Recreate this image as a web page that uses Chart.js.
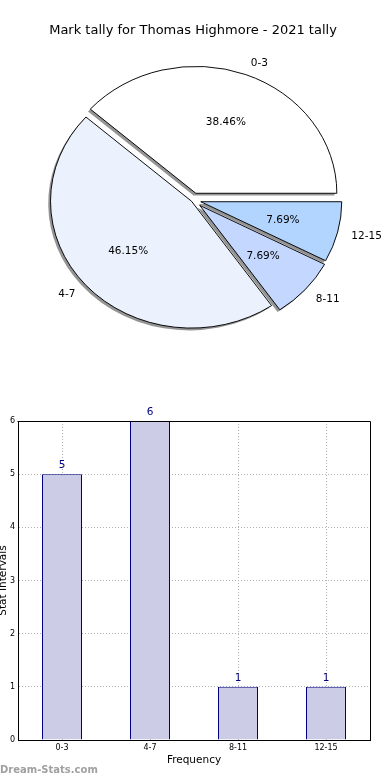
<!DOCTYPE html>
<html><head><meta charset="utf-8">
<script src="https://cdn.jsdelivr.net/npm/chart.js@4/dist/chart.umd.min.js"></script>
<style>
html,body{margin:0;padding:0;background:#fff;width:390px;height:780px;overflow:hidden}
.box{position:absolute;left:0;width:390px;height:390px}
canvas{display:block}
</style></head><body>
<div class="box" style="top:0"><canvas id="pie" width="390" height="390"></canvas></div>
<div class="box" style="top:390px"><canvas id="bar" width="390" height="390"></canvas></div>
<script>
// ---- data ----
const categories = ['0-3', '4-7', '8-11', '12-15'];
const counts = [5, 6, 1, 1];
const yTicks = [0, 1, 2, 3, 4, 5, 6];
const chartTitle = 'Mark tally for Thomas Highmore - 2021 tally';
const xTitle = 'Frequency';
const yTitle = 'Stat Intervals';
const watermark = 'Dream-Stats.com';

// ---- styles ----
const FONT = "'DejaVu Sans', sans-serif";
const pieColors = ['#ffffff', '#ebf2fe', '#c4d8ff', '#b2d5ff'];
const explodePx = [8, 2, 9, 8];
const ELLIPSE = 0.9;
const total = counts.reduce((a, b) => a + b, 0);

// pie drawn counter-clockwise from 3 o'clock (reverse order, clockwise in Chart.js)
const order = categories.map((_, i) => i).reverse();

function explodeOf(chart, j) {
  return (chart.data.datasets[0].explode || [])[j] || 0;
}

const pieShape = {
  id: 'pieShape',
  beforeDatasetsDraw(chart) {
    const meta = chart.getDatasetMeta(0);
    const a0 = meta.data[0];
    const cx = a0.x, cy = a0.y;
    const ctx = chart.ctx;
    // move each wedge outward along its bisector (matplotlib "explode")
    meta.data.forEach((arc, j) => {
      if (arc._exploded) return;
      const orig = arc.draw;
      const d = explodeOf(chart, j);
      arc.draw = function (c) {
        const mid = (this.startAngle + this.endAngle) / 2;
        c.save();
        c.translate(Math.cos(mid) * d, Math.sin(mid) * d);
        orig.call(this, c);
        c.restore();
      };
      arc._exploded = true;
    });
    ctx.save();
    ctx.translate(cx, cy); ctx.scale(1, ELLIPSE); ctx.translate(-cx, -cy);
    // shadow
    ctx.save();
    ctx.translate(-2.3, 2.3 / ELLIPSE);
    ctx.fillStyle = 'rgba(0,0,0,0.42)';
    meta.data.forEach((arc, j) => {
      const off = explodeOf(chart, j);
      const mid = (arc.startAngle + arc.endAngle) / 2;
      const ox = arc.x + Math.cos(mid) * off, oy = arc.y + Math.sin(mid) * off;
      ctx.beginPath();
      ctx.moveTo(ox, oy);
      ctx.arc(ox, oy, arc.outerRadius, arc.startAngle, arc.endAngle);
      ctx.closePath();
      ctx.fill();
    });
    ctx.restore();
  },
  afterDatasetsDraw(chart) {
    const ctx = chart.ctx;
    ctx.restore();
    const meta = chart.getDatasetMeta(0);
    const cy = meta.data[0].y;
    const toY = py => cy + (py - cy) * ELLIPSE;
    ctx.save();
    ctx.font = '10.5px ' + FONT;
    ctx.fillStyle = '#000';
    ctx.textBaseline = 'middle';
    meta.data.forEach((arc, j) => {
      const off = explodeOf(chart, j);
      const mid = (arc.startAngle + arc.endAngle) / 2;
      const c = Math.cos(mid), s = Math.sin(mid);
      const ex = arc.x + c * off, ey = arc.y + s * off;
      const R = arc.outerRadius;
      const label = chart.data.labels[j];
      const val = chart.data.datasets[0].data[j];
      ctx.textAlign = c >= 0 ? 'left' : 'right';
      ctx.fillText(label, ex + c * 1.1 * R, toY(ey + s * 1.1 * R) + 1);
      ctx.textAlign = 'center';
      ctx.fillText((val / total * 100).toFixed(2) + '%', ex + c * 0.6 * R, toY(ey + s * 0.6 * R));
    });
    ctx.restore();
  }
};

new Chart(document.getElementById('pie'), {
  type: 'pie',
  data: {
    labels: order.map(i => categories[i]),
    datasets: [{
      data: order.map(i => counts[i]),
      backgroundColor: order.map(i => pieColors[i]),
      borderColor: '#000',
      borderWidth: 1,
      offset: 0,
      hoverOffset: 0,
      explode: order.map(i => explodePx[i]),
      clip: false
    }]
  },
  options: {
    responsive: false, animation: false, devicePixelRatio: 1, events: [],
    rotation: 90, radius: 141,
    layout: { padding: { top: 0, bottom: 40, left: 0, right: 4 } },
    plugins: {
      legend: { display: false }, tooltip: { enabled: false },
      title: { display: true, text: chartTitle, color: '#000',
        font: { family: FONT, size: 13, weight: 'normal', lineHeight: 1.2 },
        padding: { top: 22.5, bottom: 11.9 } }
    }
  },
  plugins: [pieShape]
});

const barExtras = {
  id: 'barExtras',
  afterDraw(chart) {
    const { ctx, chartArea: a } = chart;
    ctx.save();
    ctx.strokeStyle = '#000'; ctx.lineWidth = 1;
    ctx.beginPath();
    ctx.moveTo(Math.round(a.left) - 0.5, Math.round(a.top) + 0.5);
    ctx.lineTo(Math.round(a.right) + 0.5, Math.round(a.top) + 0.5);
    ctx.lineTo(Math.round(a.right) + 0.5, Math.round(a.bottom));
    ctx.stroke();
    const meta = chart.getDatasetMeta(0);
    ctx.font = '10.5px ' + FONT;
    ctx.fillStyle = '#000080';
    ctx.textAlign = 'center'; ctx.textBaseline = 'middle';
    meta.data.forEach((bar, j) => {
      ctx.fillText(String(chart.data.datasets[0].data[j]), bar.x, bar.y - 9);
    });
    ctx.font = 'bold 10px ' + FONT;
    ctx.fillStyle = '#a0a0a0';
    ctx.textAlign = 'left';
    ctx.fillText(watermark, 0, 380);
    ctx.restore();
  }
};

const gridStyle = { color: '#b0b0b0', lineWidth: 1, drawTicks: false };
const borderStyle = { display: true, color: '#000', width: 1, dash: [1, 2] };

new Chart(document.getElementById('bar'), {
  type: 'bar',
  data: {
    labels: categories,
    datasets: [{
      data: counts,
      backgroundColor: '#ccccE6',
      borderColor: '#000080',
      borderWidth: 1,
      barPercentage: 40 / 88,
      categoryPercentage: 1
    }]
  },
  options: {
    responsive: false, animation: false, devicePixelRatio: 1, events: [],
    layout: { padding: { top: 31, right: 20, left: 0, bottom: 0 } },
    plugins: { legend: { display: false }, tooltip: { enabled: false } },
    scales: {
      x: {
        offset: true,
        grid: Object.assign({ offset: false }, gridStyle),
        border: borderStyle,
        ticks: { font: { family: FONT, size: 8 }, color: '#000', padding: 3, maxRotation: 0 },
        title: { display: true, text: xTitle, color: '#000', font: { family: FONT, size: 10.5 }, padding: { top: 0, bottom: 13.7 } },
        afterFit(s) { s.height = 40; }
      },
      y: {
        min: 0, max: 6,
        afterBuildTicks(s) { s.ticks = yTicks.map(v => ({ value: v })); },
        grid: gridStyle,
        border: borderStyle,
        ticks: { font: { family: FONT, size: 8 }, color: '#000', padding: 3 },
        title: { display: true, text: yTitle, color: '#000', font: { family: FONT, size: 10.5 }, padding: { top: -3, bottom: 0 } },
        afterFit(s) { s.width = 18; }
      }
    }
  },
  plugins: [barExtras]
});
</script>
</body></html>
